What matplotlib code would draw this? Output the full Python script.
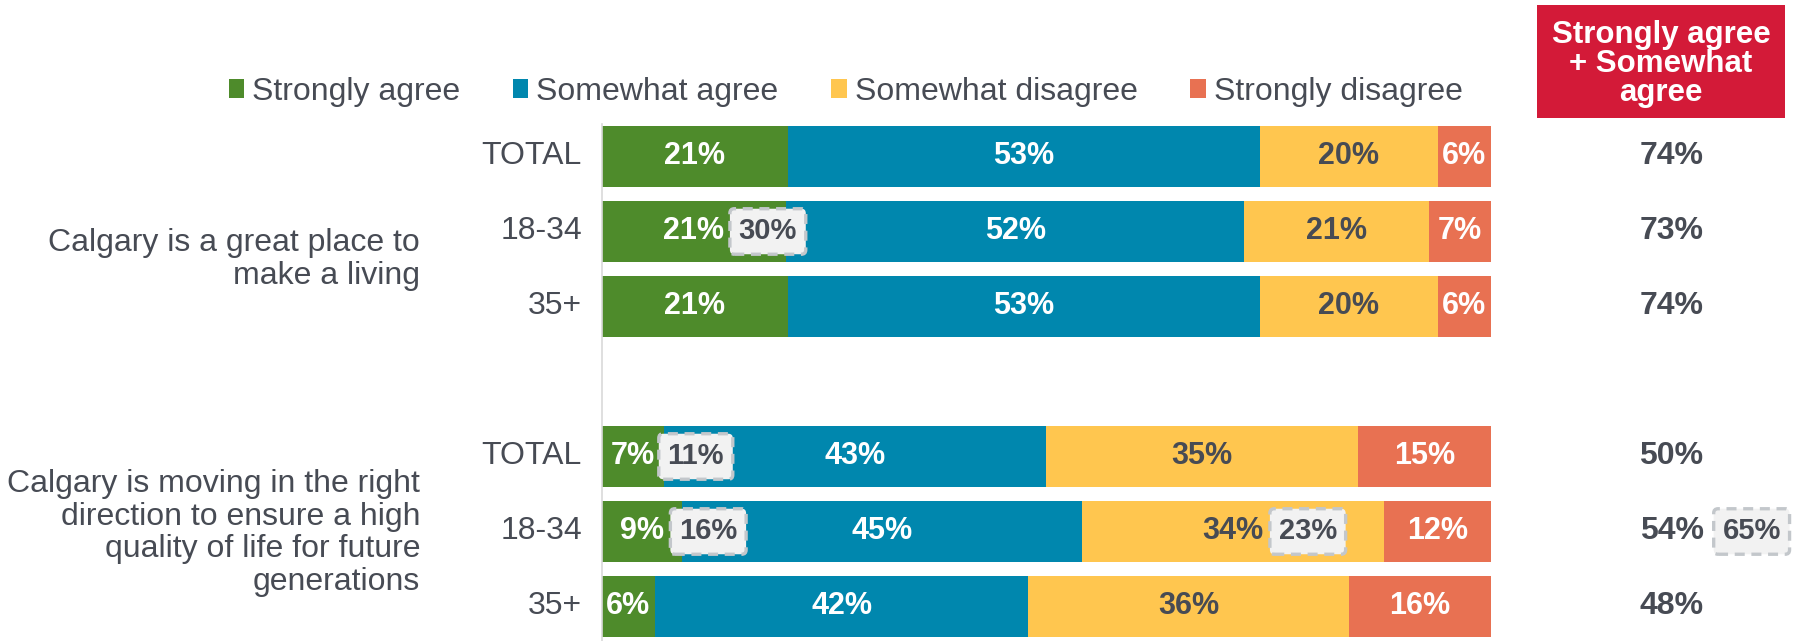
import matplotlib
matplotlib.use("Agg")
import matplotlib.pyplot as plt
from matplotlib.patches import Rectangle, Patch
import numpy as np

plt.rcParams['font.family'] = ['Liberation Sans', 'DejaVu Sans']

# ---------------- data ----------------
series = ["Strongly agree", "Somewhat agree", "Somewhat disagree", "Strongly disagree"]
strongly_agree = [21, 21, 21, 7, 9, 6]
somewhat_agree = [53, 52, 53, 43, 45, 42]
somewhat_disagree = [20, 21, 20, 35, 34, 36]
strongly_disagree = [6, 7, 6, 15, 12, 16]
net_agree = [74, 73, 74, 50, 54, 48]
row_labels = ["TOTAL", "18-34", "35+", "TOTAL", "18-34", "35+"]
questions = ["Calgary is a great place to\nmake a living",
             "Calgary is moving in the right\ndirection to ensure a high\nquality of life for future\ngenerations"]
net_header = "Strongly agree\n+ Somewhat\nagree"
# callouts: (row index, text)
callout_rows = [1, 3, 4, 4, 4]
callout_text = ["30%", "11%", "16%", "23%", "65%"]

# ---------------- style ----------------
colors = ["#4E8B2B", "#0087AE", "#FFC64F", "#E87152"]
label_colors = ["white", "white", "#474B54", "white"]
txt = "#474B54"
callout_x = [18.7, 10.6, 12.0, 79.4, 129.3]
row_pos = [0, 1, 2, 4, 5, 6]
question_y = [1.37, 5.02]

fig = plt.figure(figsize=(18, 6.41), dpi=100)
ax = fig.add_axes([601.5 / 1800, 0, 889.5 / 1800, 517 / 641])
ax.set_xlim(0, 100)
ax.set_ylim(6.46, -0.433)

data = np.array([strongly_agree, somewhat_agree, somewhat_disagree, strongly_disagree], dtype=float)
totals = data.sum(axis=0)
shares = data / totals * 100
left = np.zeros(len(row_pos))
for i in range(4):
    bars = ax.barh(row_pos, shares[i], left=left, height=0.81, color=colors[i],
                   edgecolor='none', label=series[i])
    for j, b in enumerate(bars):
        ax.text(left[j] + shares[i][j] / 2, row_pos[j], f"{int(data[i][j])}%",
                ha='center', va='center', fontsize=22, fontweight='bold',
                color=label_colors[i])
    left += shares[i]

for j, y in enumerate(row_pos):
    ax.text(-2.2, y, row_labels[j], ha='right', va='center', fontsize=23, color=txt)
    ax.text(120.3, y, f"{net_agree[j]}%", ha='center', va='center', fontsize=23,
            fontweight='bold', color=txt, clip_on=False)

for q, qy in zip(questions, question_y):
    ax.text(-20.4, qy, q, ha='right', va='center', fontsize=23, color=txt,
            linespacing=1.12, multialignment='right')

for r, t, x in zip(callout_rows, callout_text, callout_x):
    ax.text(x, row_pos[r], t, ha='center', va='center', fontsize=21, fontweight='bold',
            color=txt, clip_on=False,
            bbox=dict(boxstyle='round,pad=0.3,rounding_size=0.15', fc='#F2F2F2',
                      ec='#C3C7CB', lw=2.4, ls=(0, (3, 2))))

for s in ['top', 'right', 'bottom']:
    ax.spines[s].set_visible(False)
ax.spines['left'].set_color('#D9D9D9')
ax.spines['left'].set_linewidth(1.2)
ax.set_xticks([])
ax.set_yticks([])

# header box
fig.patches.append(Rectangle((1537 / 1800, 1 - 118 / 641), 248 / 1800, 113 / 641,
                             transform=fig.transFigure, fc='#D31A38', ec='none'))
fig.text(1661 / 1800, 1 - 64 / 641, net_header, ha='center', va='center', fontsize=22.5,
         fontweight='bold', color='white', linespacing=0.95)

# legend
handles = [Patch(facecolor=c, edgecolor='none') for c in colors]
fig.legend(handles, series, loc='center left', bbox_to_anchor=(229 / 1800, 1 - 92 / 641),
           ncol=4, frameon=False, fontsize=23, labelcolor=txt, handlelength=0.48,
           handleheight=0.55, handletextpad=0.25, columnspacing=1.65, borderpad=0,
           borderaxespad=0)

fig.savefig("out.png", dpi=100, facecolor='white')
